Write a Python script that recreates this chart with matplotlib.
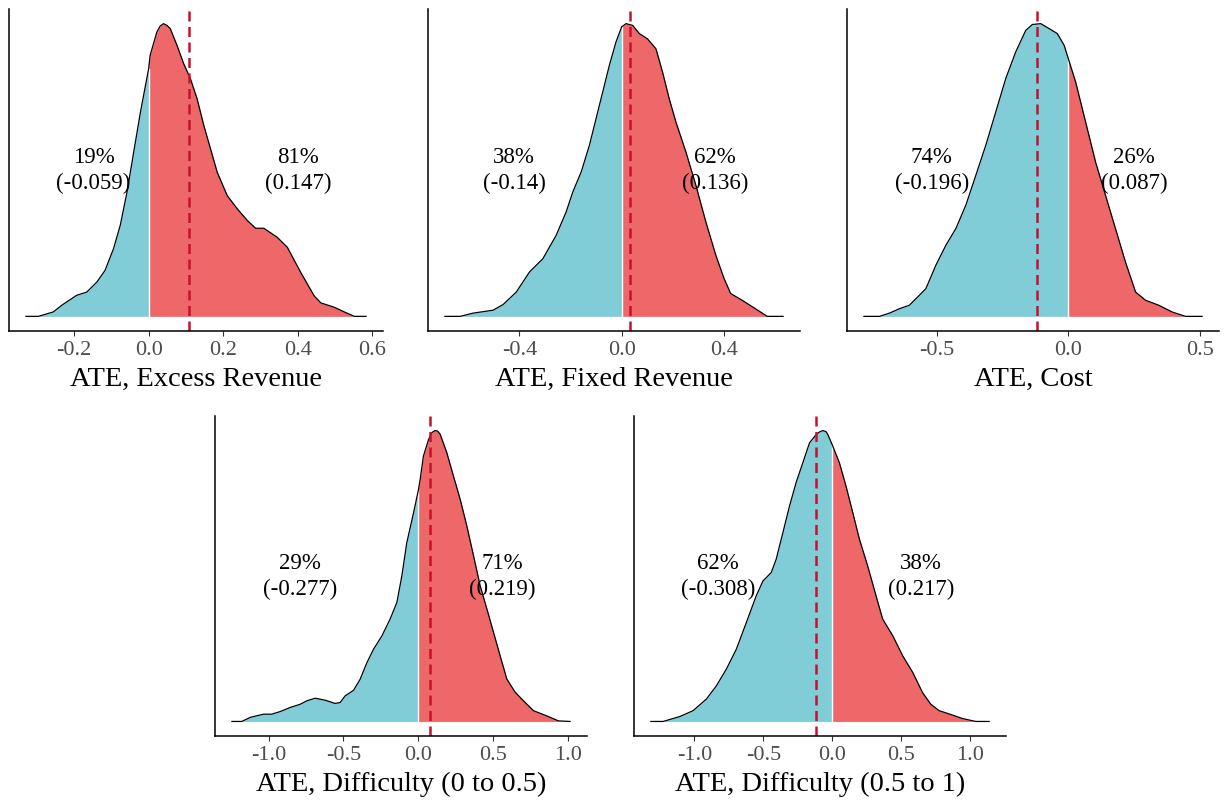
import numpy as np
import matplotlib.pyplot as plt

plt.rcParams['font.family'] = ['Liberation Serif', 'DejaVu Serif']

# density curves (heights scaled so each peak = 1)
excess_x = [-0.329, -0.296, -0.256, -0.233, -0.193, -0.166, -0.139, -0.117, -0.094, -0.076,
            -0.058, -0.040, -0.022, 0.0, 0.004, 0.022, 0.031, 0.040, 0.049, 0.058, 0.076, 0.094,
            0.112, 0.130, 0.148, 0.166, 0.184, 0.211, 0.238, 0.265, 0.287, 0.309,
            0.345, 0.372, 0.408, 0.444, 0.462, 0.498, 0.525, 0.552, 0.583]
excess_y = [0, 0, 0.015, 0.038, 0.072, 0.083, 0.117, 0.157, 0.232, 0.312,
            0.425, 0.562, 0.698, 0.846, 0.892, 0.971, 0.992, 1.0, 0.994, 0.983, 0.926, 0.863,
            0.812, 0.743, 0.652, 0.572, 0.492, 0.412, 0.367, 0.327, 0.301, 0.301,
            0.270, 0.236, 0.150, 0.070, 0.046, 0.031, 0.015, 0, 0]

fixed_x = [-0.691, -0.632, -0.581, -0.503, -0.464, -0.412, -0.360, -0.308, -0.256, -0.217,
           -0.191, -0.158, -0.126, -0.100, -0.074, -0.048, -0.022, 0.0, 0.017, 0.043,
           0.069, 0.101, 0.134, 0.160, 0.186, 0.212, 0.251, 0.290, 0.329, 0.368,
           0.400, 0.426, 0.471, 0.523, 0.569, 0.631]
fixed_y = [0, 0, 0.011, 0.021, 0.040, 0.083, 0.152, 0.197, 0.277, 0.357,
           0.425, 0.494, 0.585, 0.676, 0.767, 0.858, 0.938, 0.989, 1.0, 0.994,
           0.966, 0.948, 0.914, 0.834, 0.743, 0.664, 0.562, 0.448, 0.323, 0.209,
           0.130, 0.078, 0.055, 0.026, 0, 0]

cost_x = [-0.778, -0.719, -0.681, -0.643, -0.605, -0.567, -0.542, -0.504, -0.466, -0.428,
          -0.390, -0.352, -0.314, -0.276, -0.238, -0.200, -0.162, -0.137, -0.105, -0.073,
          -0.042, -0.016, 0.0, 0.028, 0.066, 0.104, 0.142, 0.180, 0.218, 0.256,
          0.294, 0.344, 0.395, 0.446, 0.509]
cost_y = [0, 0, 0.011, 0.026, 0.038, 0.072, 0.095, 0.175, 0.243, 0.300,
          0.380, 0.482, 0.585, 0.699, 0.813, 0.904, 0.977, 0.997, 1.0, 0.983,
          0.966, 0.926, 0.880, 0.800, 0.663, 0.526, 0.412, 0.298, 0.184, 0.083,
          0.055, 0.038, 0.015, 0, 0]

diff_lo_x = [-1.244, -1.178, -1.122, -1.033, -0.978, -0.922, -0.856, -0.789, -0.744, -0.689,
             -0.622, -0.556, -0.522, -0.489, -0.433, -0.389, -0.344, -0.300, -0.244, -0.189,
             -0.144, -0.111, -0.078, -0.033, 0.0, 0.011, 0.033, 0.067, 0.089, 0.111, 0.127,
             0.144, 0.189, 0.233, 0.278, 0.322, 0.367, 0.411, 0.456, 0.500, 0.544, 0.589,
             0.644, 0.700, 0.767, 0.856, 0.933, 1.011]
diff_lo_y = [0, 0, 0.014, 0.025, 0.025, 0.034, 0.048, 0.059, 0.071, 0.080,
             0.073, 0.062, 0.065, 0.088, 0.107, 0.145, 0.202, 0.248, 0.294, 0.352,
             0.409, 0.500, 0.614, 0.717, 0.797, 0.831, 0.912, 0.969, 0.993, 1.0, 0.998,
             0.988, 0.924, 0.844, 0.764, 0.673, 0.570, 0.467, 0.387, 0.307, 0.227, 0.146,
             0.101, 0.071, 0.037, 0.019, 0.002, 0]

diff_hi_x = [-1.316, -1.227, -1.106, -1.010, -0.913, -0.841, -0.768, -0.696, -0.623, -0.551,
             -0.502, -0.442, -0.406, -0.357, -0.309, -0.261, -0.213, -0.164, -0.116, -0.092,
             -0.068, -0.043, -0.031, 0.0, 0.053, 0.101, 0.150, 0.198, 0.258, 0.319, 0.367, 0.440,
             0.512, 0.585, 0.657, 0.717, 0.778, 0.874, 0.947, 1.043, 1.140]
diff_hi_y = [0, 0, 0.017, 0.037, 0.077, 0.122, 0.180, 0.248, 0.340, 0.432,
             0.483, 0.512, 0.558, 0.650, 0.741, 0.822, 0.889, 0.958, 0.986, 0.995,
             1.0, 0.996, 0.986, 0.952, 0.889, 0.809, 0.718, 0.627, 0.535, 0.432, 0.352, 0.295,
             0.226, 0.169, 0.099, 0.059, 0.037, 0.022, 0.010, 0, 0]

titles = ['ATE, Excess Revenue', 'ATE, Fixed Revenue', 'ATE, Cost',
          'ATE, Difficulty (0 to 0.5)', 'ATE, Difficulty (0.5 to 1)']
means = [0.107, 0.031, -0.121, 0.08, -0.116]
share_neg = ['19%', '38%', '74%', '29%', '62%']
share_pos = ['81%', '62%', '26%', '71%', '38%']
mean_neg = ['-0.059', '-0.14', '-0.196', '-0.277', '-0.308']
mean_pos = ['0.147', '0.136', '0.087', '0.219', '0.217']
label_x_neg = [-0.148, -0.42, -0.52, -0.79, -0.83]
label_x_pos = [0.40, 0.365, 0.25, 0.56, 0.645]
ticks = [[-0.2, 0.0, 0.2, 0.4, 0.6], [-0.4, 0.0, 0.4], [-0.5, 0.0, 0.5],
         [-1.0, -0.5, 0.0, 0.5, 1.0], [-1.0, -0.5, 0.0, 0.5, 1.0]]

curves = [(excess_x, excess_y), (fixed_x, fixed_y), (cost_x, cost_y),
          (diff_lo_x, diff_lo_y), (diff_hi_x, diff_hi_y)]

W, H = 1225, 804
# panel boxes in pixels: left, right, top, bottom
boxes = [(9, 383, 10, 332), (428, 800, 10, 332), (847, 1219, 10, 332),
         (215, 587, 417, 737), (634, 1006, 417, 737)]

fig = plt.figure(figsize=(12.25, 8.04), dpi=100)
cyan = '#80CDD7'
red = '#EE6869'

for i in range(5):
    l, r, t, b = boxes[i]
    ax = fig.add_axes([l / W, (H - b) / H, (r - l) / W, (b - t) / H])
    x = np.array(curves[i][0])
    y = np.array(curves[i][1])
    neg = x <= 0
    pos = x >= 0
    ax.fill_between(x[neg], 0, y[neg], color=cyan, lw=0)
    ax.fill_between(x[pos], 0, y[pos], color=red, lw=0)
    y0 = np.interp(0, x, y)
    ax.plot([0, 0], [0, y0], color='white', lw=1)
    ax.plot(x, y, color='black', lw=0.9, solid_joinstyle='round')
    ax.axvline(means[i], color='#C8102E', lw=1.8, dashes=(4, 2.2))

    ax.text(label_x_neg[i], 0.5, share_neg[i] + '\n(' + mean_neg[i] + ')',
            ha='center', va='center', fontsize=16.5, linespacing=1.3)
    ax.text(label_x_pos[i], 0.5, share_pos[i] + '\n(' + mean_pos[i] + ')',
            ha='center', va='center', fontsize=16.5, linespacing=1.3)

    span = x.max() - x.min()
    ax.set_xlim(x.min() - 0.05 * span, x.max() + 0.05 * span)
    ax.set_ylim(-0.05, 1.05)
    ax.set_xticks(ticks[i])
    ax.set_xticklabels(['%.1f' % v for v in ticks[i]])
    ax.set_yticks([])
    for s in ['top', 'right']:
        ax.spines[s].set_visible(False)
    ax.spines['left'].set_linewidth(1.1)
    ax.spines['bottom'].set_linewidth(1.1)
    ax.tick_params(axis='x', colors='#333333', labelcolor='#4D4D4D', labelsize=16,
                   length=3.5, width=0.8, pad=3)
    ax.set_xlabel(titles[i], fontsize=20.5, labelpad=5)

fig.savefig('out.png', dpi=100)
